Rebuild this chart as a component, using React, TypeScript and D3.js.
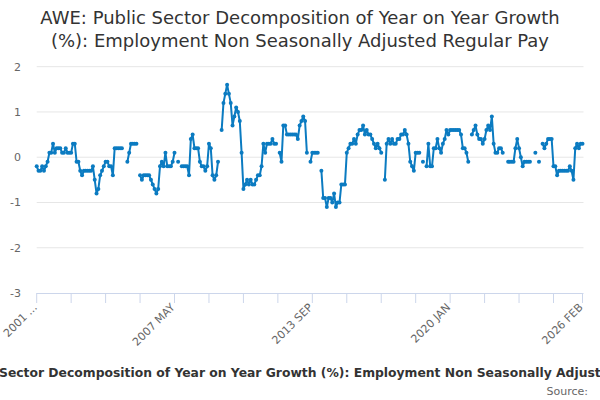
import React from "react";
import * as d3 from "d3";

const title1 = "AWE: Public Sector Decomposition of Year on Year Growth";
const title2 = "(%): Employment Non Seasonally Adjusted Regular Pay";
const seriesName =
  "AWE: Public Sector Decomposition of Year on Year Growth (%): Employment Non Seasonally Adjusted Regular Pay";
const sourceText = "Source:";

const years = [2001, 2002, 2003, 2004, 2005, 2006, 2007, 2008, 2009, 2010, 2011, 2012, 2013,
  2014, 2015, 2016, 2017, 2018, 2019, 2020, 2021, 2022, 2023, 2024, 2025, 2026];
const monthNames = ["JAN", "FEB", "MAR", "APR", "MAY", "JUN", "JUL", "AUG", "SEP", "OCT", "NOV", "DEC"];

type V = number | null;
const v2001: V[] = [-0.2, -0.3, -0.3, -0.2, -0.3, -0.2, -0.1, 0.1, 0.1, 0.3, 0.1, 0.2];
const v2002: V[] = [0.2, 0.2, 0.1, 0.1, 0.2, 0.1, 0.1, 0.1, 0.3, 0.3, -0.1, -0.1];
const v2003: V[] = [-0.3, -0.4, -0.3, -0.3, -0.3, -0.3, -0.3, -0.2, -0.5, -0.8, -0.7, -0.4];
const v2004: V[] = [-0.3, -0.2, -0.1, -0.1, -0.2, -0.2, -0.4, 0.2, 0.2, 0.2, 0.2, 0.2];
const v2005: V[] = [null, null, -0.1, 0.1, 0.3, 0.3, 0.3, 0.3, null, -0.4, -0.5, -0.4];
const v2006: V[] = [-0.4, -0.4, -0.4, -0.5, -0.6, -0.7, -0.8, -0.7, -0.2, -0.1, -0.2, 0.1];
const v2007: V[] = [-0.2, -0.2, -0.2, -0.1, 0.1, null, -0.1, null, -0.2, -0.2, -0.2, -0.2];
const v2008: V[] = [-0.4, 0.4, 0.5, 0.2, 0.2, 0.2, -0.1, -0.2, -0.2, -0.3, -0.2, 0.3];
const v2009: V[] = [0.2, -0.4, -0.5, -0.4, -0.1, null, 0.6, 1.2, 1.4, 1.6, 1.4, 1.2];
const v2010: V[] = [0.7, 0.9, 1.1, 1.0, 0.8, 0.1, -0.7, -0.6, -0.5, -0.6, -0.5, -0.6];
const v2011: V[] = [-0.6, -0.5, -0.4, -0.4, -0.2, 0.3, 0.1, 0.3, 0.3, 0.3, 0.4, 0.3];
const v2012: V[] = [0.3, null, 0.1, -0.1, 0.7, 0.7, 0.5, 0.5, 0.5, 0.5, 0.5, 0.5];
const v2013: V[] = [0.4, 0.7, 0.8, 0.9, 0.8, 0.1, null, -0.1, 0.1, 0.1, 0.1, 0.1];
const v2014: V[] = [null, -0.3, -0.9, -0.9, -1.1, -0.9, -0.9, -1.0, -0.8, -1.1, -1.0, -1.0];
const v2015: V[] = [-0.6, -0.6, -0.6, 0.1, 0.2, 0.3, 0.3, 0.4, 0.3, 0.5, 0.6, 0.6];
const v2016: V[] = [0.7, 0.5, 0.6, 0.5, 0.5, 0.4, 0.3, 0.2, 0.3, 0.2, 0.1, null];
const v2017: V[] = [-0.5, 0.3, 0.4, 0.3, 0.4, 0.3, 0.3, 0.4, 0.4, 0.5, 0.5, 0.6];
const v2018: V[] = [0.5, 0.3, -0.1, -0.2, -0.3, 0.1, 0.1, 0.1, null, -0.1, null, -0.2];
const v2019: V[] = [0.3, -0.2, -0.2, 0.2, 0.2, 0.4, 0.2, 0.1, 0.3, 0.4, 0.6, 0.5];
const v2020: V[] = [0.6, 0.6, 0.6, 0.6, 0.6, 0.6, 0.5, 0.2, 0.2, 0.1, -0.1, null];
const v2021: V[] = [0.5, 0.6, 0.7, 0.5, 0.4, 0.4, 0.3, 0.4, 0.6, 0.7, 0.6, 0.9];
const v2022: V[] = [0.3, 0.1, 0.1, 0.2, 0.2, 0.1, null, null, -0.1, -0.1, -0.1, -0.1];
const v2023: V[] = [0.2, 0.4, 0.2, 0.0, -0.2, -0.1, -0.1, -0.1, -0.1, null, null, 0.1];
const v2024: V[] = [null, -0.1, null, 0.3, 0.2, 0.3, 0.4, 0.4, 0.4, -0.2, -0.2, -0.4];
const v2025: V[] = [-0.3, -0.3, -0.3, -0.3, -0.3, -0.3, -0.2, -0.3, -0.5, 0.2, 0.3, 0.2];
const v2026: V[] = [0.3, 0.3];

const yearValues: V[][] = [v2001, v2002, v2003, v2004, v2005, v2006, v2007, v2008, v2009, v2010,
  v2011, v2012, v2013, v2014, v2015, v2016, v2017, v2018, v2019, v2020, v2021, v2022, v2023,
  v2024, v2025, v2026];

const yTicks = [2, 1, 0, -1, -2, -3];
const xLabelTexts = ["2001 ...", "2007 MAY", "2013 SEP", "2020 JAN", "2026 FEB"];
const xLabelCats = ["2001 JAN", "2007 MAY", "2013 SEP", "2020 JAN", "2026 FEB"];
const tickStep = 19;

type Pt = { cat: string; i: number; v: V };

export default function App() {
  const points: Pt[] = [];
  yearValues.forEach((arr, yi) => {
    arr.forEach((v, mi) => {
      points.push({ cat: `${years[yi]} ${monthNames[mi]}`, i: points.length, v });
    });
  });
  const n = points.length;

  const W = 600, H = 400;
  const left = 36.7, right = 582.5, top = 66.7, bottom = 293;
  const x = d3.scaleLinear().domain([0, n - 1]).range([left, right]);
  const y = d3.scaleLinear().domain([-3, 2]).range([bottom, top]);

  const line = d3
    .line<Pt>()
    .defined((d) => d.v !== null)
    .x((d) => x(d.i))
    .y((d) => y(d.v as number));

  const tickIdx: number[] = [];
  for (let k = 0; k < n - 1; k += tickStep) tickIdx.push(k);
  tickIdx.push(n - 1);

  const catIndex = (c: string) => points.findIndex((p) => p.cat === c);
  const color = "#0b7bc1";
  const font = "'DejaVu Sans', sans-serif";

  return (
    <svg
      width={W}
      height={H}
      style={{ position: "absolute", left: 0, top: 0, background: "#fff" }}
      fontFamily={font}
    >
      <rect x={0} y={0} width={W} height={H} fill="#fff" />
      <text x={300} y={24} textAnchor="middle" fontSize={18} fill="#333">{title1}</text>
      <text x={300} y={47} textAnchor="middle" fontSize={18} fill="#333">{title2}</text>

      {yTicks.map((t) => (
        <g key={t}>
          {t !== -3 && (
            <line x1={left} x2={right + 1} y1={y(t)} y2={y(t)} stroke="#e6e6e6" strokeWidth={1} />
          )}
          <text x={21} y={y(t) + 4} textAnchor="end" fontSize={11} fill="#666">{t}</text>
        </g>
      ))}

      <line x1={left} x2={right + 1} y1={bottom + 0.5} y2={bottom + 0.5} stroke="#ccd6eb" strokeWidth={1} />
      {tickIdx.map((k) => (
        <line key={k} x1={x(k)} x2={x(k)} y1={bottom} y2={bottom + 10} stroke="#ccd6eb" strokeWidth={1} />
      ))}
      {xLabelCats.map((c, j) => {
        const k = catIndex(c);
        return (
          <text
            key={c}
            transform={`translate(${x(k) + 1},${bottom + 15}) rotate(-45)`}
            textAnchor="end"
            fontSize={11}
            fill="#666"
          >
            {xLabelTexts[j]}
          </text>
        );
      })}

      <path d={line(points) || ""} fill="none" stroke={color} strokeWidth={2} strokeLinejoin="round" />
      {points.filter((p) => p.v !== null).map((p) => (
        <circle key={p.i} cx={x(p.i)} cy={y(p.v as number)} r={2} fill={color} />
      ))}

      <text x={-88} y={377} textAnchor="start" fontSize={12.35} fontWeight="bold" fill="#333">{seriesName}</text>
      <text x={588} y={395} textAnchor="end" fontSize={11} fill="#666">{sourceText}</text>
    </svg>
  );
}
